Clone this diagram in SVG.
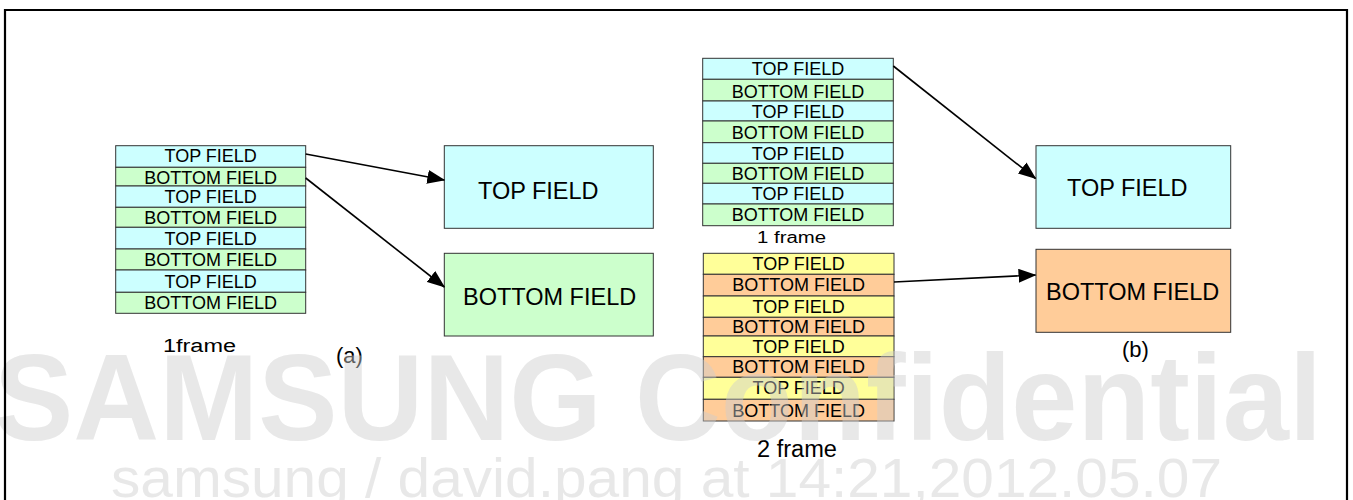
<svg xmlns="http://www.w3.org/2000/svg" width="1353" height="500" viewBox="0 0 1353 500">
<defs>
<style>
text{font-family:"Liberation Sans",Arial,sans-serif;fill:#000}
.row{stroke:#333;stroke-width:1}
.cy{fill:#ccffff}.gr{fill:#ccffcc}.ye{fill:#ffff99}.or{fill:#ffcc99}
.st{font-size:18px;text-anchor:middle}
.big{font-size:23.5px}
.lbl{font-size:22px}
.wm{fill:#cccccc;fill-opacity:0.46}
.conn{stroke:#000;stroke-width:1.6;fill:none}
</style>
<marker id="ah" viewBox="0 0 18 14" refX="17" refY="7" markerWidth="18" markerHeight="14" markerUnits="userSpaceOnUse" orient="auto">
<path d="M0,0 L18,7 L0,14 Z" fill="#000"/>
</marker>
</defs>
<rect x="0" y="0" width="1353" height="500" fill="#fff"/>

<g id="stack-a">
<rect class="row cy" x="115.7" y="145.7" width="190" height="21.6"/>
<rect class="row gr" x="115.7" y="167.3" width="190" height="18.7"/>
<rect class="row cy" x="115.7" y="186" width="190" height="21.3"/>
<rect class="row gr" x="115.7" y="207.3" width="190" height="20"/>
<rect class="row cy" x="115.7" y="227.3" width="190" height="21.7"/>
<rect class="row gr" x="115.7" y="249" width="190" height="21"/>
<rect class="row cy" x="115.7" y="270" width="190" height="22.3"/>
<rect class="row gr" x="115.7" y="292.3" width="190" height="21"/>
<text class="st" x="210.7" y="162">TOP FIELD</text>
<text class="st" x="210.7" y="184">BOTTOM FIELD</text>
<text class="st" x="210.7" y="203">TOP FIELD</text>
<text class="st" x="210.7" y="224">BOTTOM FIELD</text>
<text class="st" x="210.7" y="244.5">TOP FIELD</text>
<text class="st" x="210.7" y="266">BOTTOM FIELD</text>
<text class="st" x="210.7" y="287.5">TOP FIELD</text>
<text class="st" x="210.7" y="309">BOTTOM FIELD</text>
<text x="163" y="352" font-size="18" textLength="73" lengthAdjust="spacingAndGlyphs">1frame</text>
</g>

<g id="box-a-top">
<rect class="row cy" x="444.3" y="145.7" width="209" height="82.6"/>
<text class="big" x="478" y="199">TOP FIELD</text>
</g>
<g id="box-a-bottom">
<rect class="row gr" x="444.3" y="253.3" width="209" height="82.7"/>
<text class="big" x="463" y="305">BOTTOM FIELD</text>
</g>
<text id="label-a" class="lbl" x="336" y="363">(a)</text>

<g id="stack-b1">
<rect class="row cy" x="702.7" y="58.3" width="190.6" height="21"/>
<rect class="row gr" x="702.7" y="79.3" width="190.6" height="21.7"/>
<rect class="row cy" x="702.7" y="101" width="190.6" height="20"/>
<rect class="row gr" x="702.7" y="121" width="190.6" height="21.7"/>
<rect class="row cy" x="702.7" y="142.7" width="190.6" height="20.6"/>
<rect class="row gr" x="702.7" y="163.3" width="190.6" height="20"/>
<rect class="row cy" x="702.7" y="183.3" width="190.6" height="20.7"/>
<rect class="row gr" x="702.7" y="204" width="190.6" height="21.7"/>
<text class="st" x="798" y="75">TOP FIELD</text>
<text class="st" x="798" y="98">BOTTOM FIELD</text>
<text class="st" x="798" y="117.5">TOP FIELD</text>
<text class="st" x="798" y="138.5">BOTTOM FIELD</text>
<text class="st" x="798" y="159.5">TOP FIELD</text>
<text class="st" x="798" y="180">BOTTOM FIELD</text>
<text class="st" x="798" y="200">TOP FIELD</text>
<text class="st" x="798" y="221">BOTTOM FIELD</text>
<text x="757" y="243" font-size="16" textLength="69" lengthAdjust="spacingAndGlyphs">1 frame</text>
</g>

<g id="stack-b2">
<rect class="row ye" x="703.3" y="253.3" width="190.7" height="21"/>
<rect class="row or" x="703.3" y="274.3" width="190.7" height="21.7"/>
<rect class="row ye" x="703.3" y="296" width="190.7" height="21.3"/>
<rect class="row or" x="703.3" y="317.3" width="190.7" height="18.7"/>
<rect class="row ye" x="703.3" y="336" width="190.7" height="20.7"/>
<rect class="row or" x="703.3" y="356.7" width="190.7" height="20.6"/>
<rect class="row ye" x="703.3" y="377.3" width="190.7" height="22"/>
<rect class="row or" x="703.3" y="399.3" width="190.7" height="21.7"/>
<text class="st" x="798.7" y="270">TOP FIELD</text>
<text class="st" x="798.7" y="291">BOTTOM FIELD</text>
<text class="st" x="798.7" y="313">TOP FIELD</text>
<text class="st" x="798.7" y="333">BOTTOM FIELD</text>
<text class="st" x="798.7" y="352.5">TOP FIELD</text>
<text class="st" x="798.7" y="373">BOTTOM FIELD</text>
<text class="st" x="798.7" y="394">TOP FIELD</text>
<text class="st" x="798.7" y="416.5">BOTTOM FIELD</text>
<text x="757" y="456.7" font-size="23" textLength="80" lengthAdjust="spacingAndGlyphs">2 frame</text>
</g>

<g id="box-b-top">
<rect class="row cy" x="1036" y="145.7" width="194.7" height="82.6"/>
<text class="big" x="1067" y="196">TOP FIELD</text>
</g>
<g id="box-b-bottom">
<rect class="row or" x="1036" y="249.3" width="194.7" height="83"/>
<text class="big" x="1046" y="300">BOTTOM FIELD</text>
</g>
<text id="label-b" class="lbl" x="1122" y="357">(b)</text>

<g id="connectors">
<line class="conn" x1="305.7" y1="154" x2="444.3" y2="180" marker-end="url(#ah)"/>
<line class="conn" x1="305.7" y1="178" x2="444.3" y2="287" marker-end="url(#ah)"/>
<line class="conn" x1="893.3" y1="66" x2="1035.5" y2="178.5" marker-end="url(#ah)"/>
<line class="conn" x1="894" y1="282" x2="1035.5" y2="275" marker-end="url(#ah)"/>
</g>

<g id="watermark">
<text class="wm" x="-6" y="440" font-size="122" font-weight="bold" textLength="1328" lengthAdjust="spacingAndGlyphs">SAMSUNG Confidential</text>
<text class="wm" x="111" y="497" font-size="56" textLength="1111" lengthAdjust="spacingAndGlyphs">samsung / david.pang at 14:21,2012.05.07</text>
</g>

<path d="M5,502 V10 H1347 V502" fill="none" stroke="#000" stroke-width="2.2"/>
</svg>
